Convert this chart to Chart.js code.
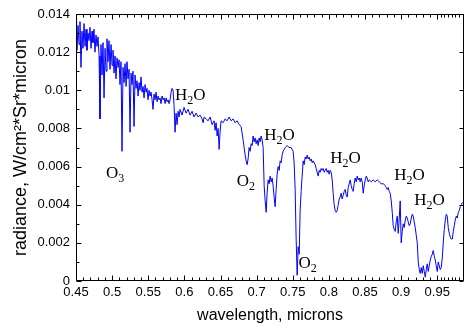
<!DOCTYPE html>
<html><head><meta charset="utf-8">
<script src="https://cdn.jsdelivr.net/npm/chart.js@4"></script>
<style>html,body{margin:0;padding:0;background:#fff}canvas{display:block}</style>
</head><body>
<canvas id="c" width="465" height="326"></canvas>
<script>
const wavelength = [
0.4500,0.4507,0.4514,0.4528,0.4542,0.4555,0.4569,0.4583,0.4597,0.4611,
0.4625,0.4639,0.4652,0.4666,0.4680,0.4694,0.4708,0.4722,0.4735,0.4749,
0.4763,0.4777,0.4791,0.4805,0.4819,0.4832,0.4846,0.4860,0.4874,0.4888,
0.4902,0.4916,0.4929,0.4943,0.4957,0.4971,0.4985,0.4999,0.5012,0.5026,
0.5040,0.5054,0.5068,0.5082,0.5096,0.5109,0.5123,0.5137,0.5151,0.5165,
0.5179,0.5193,0.5206,0.5220,0.5234,0.5248,0.5262,0.5276,0.5289,0.5303,
0.5317,0.5331,0.5345,0.5359,0.5373,0.5386,0.5400,0.5414,0.5428,0.5442,
0.5456,0.5470,0.5483,0.5497,0.5511,0.5525,0.5539,0.5553,0.5566,0.5580,
0.5594,0.5608,0.5622,0.5636,0.5650,0.5663,0.5677,0.5691,0.5705,0.5719,
0.5733,0.5747,0.5760,0.5774,0.5788,0.5802,0.5816,0.5830,0.5843,0.5857,
0.5871,0.5885,0.5899,0.5913,0.5927,0.5940,
0.5968,0.5996,0.6024,0.6051,0.6079,0.6107,0.6134,0.6162,0.6190,0.6217,
0.6245,0.6259,0.6273,0.6301,0.6328,0.6356,0.6384,0.6411,0.6425,0.6439,
0.6453,0.6467,0.6481,0.6494,0.6508,0.6536,0.6564,0.6591,0.6619,0.6647,
0.6674,0.6702,0.6730,0.6758,0.6785,0.6813,0.6827,0.6841,0.6855,0.6868,
0.6882,0.6896,0.6910,0.6924,0.6938,0.6951,0.6965,0.6979,0.6993,0.7007,
0.7021,0.7035,0.7048,0.7062,0.7076,0.7090,0.7104,0.7118,0.7132,0.7145,
0.7159,0.7173,0.7187,0.7201,0.7215,0.7228,0.7242,0.7256,0.7270,0.7284,
0.7298,0.7312,0.7325,0.7339,0.7353,0.7367,0.7381,0.7395,0.7422,0.7450,
0.7478,0.7505,0.7519,0.7533,0.7547,0.7561,0.7575,0.7589,0.7602,0.7616,
0.7630,0.7644,0.7658,0.7672,0.7686,0.7699,0.7713,0.7727,0.7741,0.7755,
0.7769,0.7782,0.7810,0.7824,0.7838,0.7852,0.7866,0.7879,0.7893,0.7907,
0.7921,0.7935,0.7949,0.7963,0.7976,0.7990,0.8004,0.8018,0.8032,0.8046,
0.8059,0.8073,0.8087,0.8101,0.8115,0.8129,0.8143,0.8156,0.8170,0.8184,
0.8198,0.8212,0.8226,0.8240,0.8253,0.8267,0.8281,0.8295,0.8309,0.8323,
0.8336,0.8350,0.8364,0.8378,0.8392,0.8406,0.8420,0.8433,0.8447,0.8461,
0.8475,0.8489,0.8503,0.8517,0.8530,0.8544,0.8558,0.8586,0.8613,0.8641,
0.8669,0.8697,0.8724,0.8752,0.8780,0.8794,0.8807,0.8821,0.8835,0.8849,
0.8863,0.8877,0.8890,0.8904,0.8918,0.8932,0.8946,0.8960,0.8974,0.8987,
0.9001,0.9015,0.9029,0.9043,0.9057,0.9071,0.9084,0.9098,0.9112,0.9126,
0.9140,0.9154,0.9167,0.9181,0.9195,0.9209,0.9223,0.9237,0.9251,0.9264,
0.9278,0.9292,0.9306,0.9320,0.9334,0.9348,0.9361,0.9375,0.9389,0.9403,
0.9417,0.9431,0.9444,0.9458,0.9472,0.9486,0.9500,0.9514,0.9528,0.9541,
0.9555,0.9569,0.9583,0.9597,0.9611,0.9625,0.9638,0.9652,0.9666,0.9680,
0.9694,0.9708,0.9722,0.9735,0.9749,0.9763,0.9777,0.9791,0.9805,0.9818,
0.9832,0.9846,0.9860];

const radiance = [
0.0125,0.0139,0.0121,0.0134,0.0124,0.0136,0.0112,0.0131,0.0122,0.0135,
0.0123,0.0132,0.0121,0.0130,0.0126,0.0133,0.0122,0.0131,0.0125,0.0132,
0.0120,0.0129,0.0123,0.0128,0.0118,0.0085,0.0124,0.0108,0.0125,0.0096,
0.0122,0.0110,0.0127,0.0115,0.0126,0.0111,0.0124,0.0113,0.0121,0.0109,
0.0118,0.0106,0.0117,0.0112,0.0116,0.0103,0.0115,0.0068,0.0112,0.0104,
0.0114,0.0102,0.0115,0.0106,0.0111,0.0078,0.0109,0.0103,0.0110,0.0081,
0.0108,0.0101,0.0105,0.0097,0.0104,0.0100,0.0107,0.0099,0.0102,0.0096,
0.0103,0.0099,0.0101,0.0095,0.0100,0.0097,0.0099,0.0095,0.0090,0.0098,
0.0095,0.0099,0.0094,0.0097,0.0095,0.0096,0.0093,0.0097,0.0095,0.0096,
0.0093,0.0096,0.0094,0.0095,0.0093,0.0095,0.0099,0.0101,0.0100,0.0092,
0.0078,0.0088,0.0082,0.0089,0.0086,0.0090,
0.0087,0.0091,0.0088,0.0090,0.0087,0.0089,0.0086,0.0088,0.0086,0.0087,
0.0085,0.0083,0.0086,0.0085,0.0084,0.0086,0.0082,0.0084,0.0079,0.0083,
0.0076,0.0080,0.0069,0.0078,0.0084,0.0083,0.0085,0.0084,0.0086,0.0084,
0.0085,0.0083,0.0084,0.0082,0.0081,0.0074,0.0070,0.0066,0.0063,0.0061,
0.0064,0.0070,0.0068,0.0072,0.0071,0.0076,0.0073,0.0075,0.0072,0.0074,
0.0071,0.0075,0.0073,0.0076,0.0074,0.0070,0.0050,0.0042,0.0036,0.0046,
0.0053,0.0051,0.0055,0.0052,0.0054,0.0050,0.0044,0.0039,0.0048,0.0056,
0.0060,0.0058,0.0063,0.0062,0.0066,0.0068,0.0069,0.0070,0.0071,0.0070,
0.0070,0.0068,0.0062,0.0048,0.0022,0.0003,0.0018,0.0014,0.0037,0.0047,
0.0055,0.0063,0.0061,0.0065,0.0064,0.0066,0.0064,0.0065,0.0063,0.0064,
0.0062,0.0063,0.0061,0.0059,0.0057,0.0055,0.0058,0.0057,0.0059,0.0058,
0.0059,0.0057,0.0058,0.0059,0.0057,0.0058,0.0056,0.0058,0.0057,0.0053,
0.0046,0.0040,0.0037,0.0036,0.0037,0.0040,0.0043,0.0044,0.0046,0.0043,
0.0045,0.0047,0.0048,0.0045,0.0044,0.0049,0.0051,0.0053,0.0050,0.0048,
0.0047,0.0051,0.0054,0.0052,0.0055,0.0053,0.0054,0.0052,0.0054,0.0052,
0.0046,0.0050,0.0053,0.0055,0.0054,0.0052,0.0053,0.0052,0.0053,0.0052,
0.0053,0.0052,0.0051,0.0051,0.0050,0.0049,0.0048,0.0049,0.0047,0.0046,
0.0042,0.0036,0.0029,0.0027,0.0026,0.0031,0.0034,0.0025,0.0033,0.0042,
0.0020,0.0026,0.0030,0.0028,0.0032,0.0034,0.0033,0.0031,0.0029,0.0030,
0.0033,0.0035,0.0034,0.0031,0.0028,0.0024,0.0020,0.0010,0.0006,0.0004,
0.0007,0.0004,0.0008,0.0005,0.0002,0.0006,0.0009,0.0005,0.0008,0.0011,
0.0013,0.0014,0.0016,0.0013,0.0011,0.0008,0.0005,0.0010,0.0008,0.0006,
0.0007,0.0012,0.0020,0.0027,0.0032,0.0035,0.0034,0.0028,0.0025,0.0023,
0.0022,0.0022,0.0026,0.0029,0.0032,0.0034,0.0033,0.0036,0.0037,0.0039,
0.0040,0.0041,0.0041];

const xTickValues = [0.45,0.5,0.55,0.6,0.65,0.7,0.75,0.8,0.85,0.9,0.95];
const xTickLabels = ['0.45','0.5','0.55','0.6','0.65','0.7','0.75','0.8','0.85','0.9','0.95'];
const yTickValues = [0,0.002,0.004,0.006,0.008,0.01,0.012,0.014];
const yTickLabels = ['0','0.002','0.004','0.006','0.008','0.01','0.012','0.014'];

const annotationLabels = ['O₃','H₂O','H₂O','O₂','O₂','H₂O','H₂O','H₂O'];
const annotationX = [0.4916,0.5871,0.7104,0.6726,0.7579,0.8018,0.8904,0.9181];
const annotationY = [0.0054,0.0095,0.0074,0.0050,0.0007,0.0062,0.0053,0.0040];

const framePlugin = {
  id: 'frame',
  afterDatasetsDraw(chart) {
    const {ctx, chartArea: a, scales: {x, y}} = chart;
    ctx.save();
    ctx.strokeStyle = '#000';
    ctx.lineWidth = 1;
    const L = Math.round(a.left) + 0.5, R = Math.round(a.right) - 0.5;
    const T = Math.round(a.top) + 0.5, B = Math.round(a.bottom) - 0.5;
    ctx.beginPath();
    ctx.rect(L, T, R - L, B - T);
    for (let i = 45; i <= 98; i++) {
      const v = i / 100;
      if (v > x.max) break;
      const px = Math.round(x.getPixelForValue(v)) + 0.5;
      const len = i % 5 === 0 ? 5 : 3;
      ctx.moveTo(px, B); ctx.lineTo(px, B - len);
      ctx.moveTo(px, T); ctx.lineTo(px, T + len);
    }
    for (let k = 191; k <= 197; k += 2) {
      const v = k / 200;
      if (v > x.max) break;
      const px = Math.round(x.getPixelForValue(v)) + 0.5;
      ctx.moveTo(px, B); ctx.lineTo(px, B - 3);
      ctx.moveTo(px, T); ctx.lineTo(px, T + 3);
    }
    for (let j = 0; j <= 14; j++) {
      const v = j / 1000;
      const py = Math.round(y.getPixelForValue(v)) + 0.5;
      const major = j % 2 === 0;
      ctx.moveTo(L, py); ctx.lineTo(L + (major ? 5 : 3), py);
      if (major) { ctx.moveTo(R, py); ctx.lineTo(R - 4, py); }
    }
    ctx.stroke();
    ctx.restore();
  }
};

const annotationPlugin = {
  id: 'annot',
  afterDatasetsDraw(chart) {
    const {ctx, scales: {x, y}} = chart;
    const subs = '₀₁₂₃₄₅₆₇₈₉';
    ctx.save();
    ctx.fillStyle = '#000';
    ctx.textBaseline = 'alphabetic';
    ctx.textAlign = 'left';
    annotationLabels.forEach((lab, i) => {
      let px = x.getPixelForValue(annotationX[i]);
      const py = y.getPixelForValue(annotationY[i]);
      for (const ch of lab) {
        const si = subs.indexOf(ch);
        if (si >= 0) {
          ctx.font = '12px "Liberation Serif", "Times New Roman", serif';
          const t = String(si);
          ctx.fillText(t, px, py + 4);
          px += ctx.measureText(t).width;
        } else {
          ctx.font = '17px "Liberation Serif", "Times New Roman", serif';
          ctx.fillText(ch, px, py);
          px += ctx.measureText(ch).width;
        }
      }
    });
    ctx.restore();
  }
};

const sans = '"Liberation Sans", Arial, sans-serif';

new Chart(document.getElementById('c'), {
  type: 'line',
  data: {
    datasets: [{
      data: wavelength.map((w, i) => ({x: w, y: radiance[i]})),
      borderColor: '#0000ff',
      borderWidth: 1,
      pointRadius: 0,
      tension: 0,
      fill: false
    }]
  },
  options: {
    responsive: false,
    animation: false,
    devicePixelRatio: 1,
    layout: {padding: {top: 14, right: 1, left: 0, bottom: 0}},
    plugins: {legend: {display: false}, tooltip: {enabled: false}},
    scales: {
      x: {
        type: 'linear', min: 0.45, max: 0.987,
        grid: {display: false, drawTicks: false},
        border: {display: false},
        afterBuildTicks: s => { s.ticks = xTickValues.map(v => ({value: v})); },
        afterFit: s => { s.height = 45; },
        ticks: {
          callback: (v, i) => xTickLabels[i],
          padding: 4, color: '#000', maxRotation: 0, autoSkip: false,
          font: {family: sans, size: 13}
        },
        title: {
          display: true, text: 'wavelength, microns', color: '#000',
          font: {family: sans, size: 16}, padding: {top: 0, bottom: 1}
        }
      },
      y: {
        type: 'linear', min: 0, max: 0.014,
        grid: {display: false, drawTicks: false},
        border: {display: false},
        afterBuildTicks: s => { s.ticks = yTickValues.map(v => ({value: v})); },
        afterFit: s => { s.width = 76; },
        ticks: {
          callback: (v, i) => yTickLabels[i],
          padding: 6, color: '#000', autoSkip: false,
          font: {family: sans, size: 13}
        },
        title: {
          display: true, text: 'radiance, W/cm²*Sr*micron', color: '#000',
          font: {family: sans, size: 18}, padding: {top: 10, bottom: 0}
        }
      }
    }
  },
  plugins: [framePlugin, annotationPlugin]
});
</script>
</body></html>
